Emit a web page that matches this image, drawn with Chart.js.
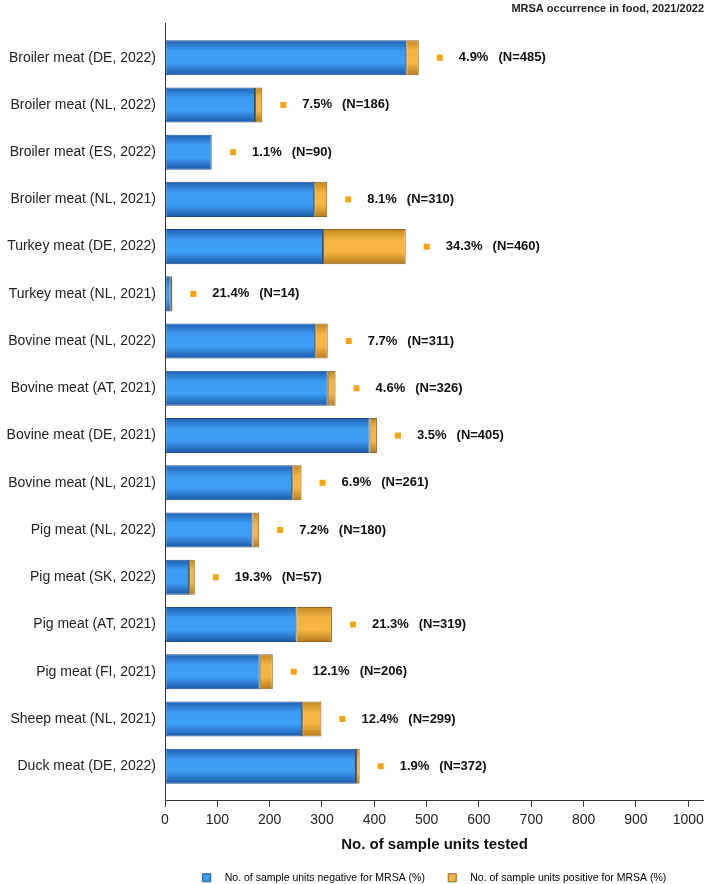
<!DOCTYPE html>
<html>
<head>
<meta charset="utf-8">
<title>MRSA occurrence in food, 2021/2022</title>
<script src="https://cdn.jsdelivr.net/npm/chart.js@4/dist/chart.umd.min.js"></script>
<style>
    html, body { margin: 0; padding: 0; background: #fff; }
    #wrap { width: 709px; height: 884px; }
</style>
</head>
<body>
<div id="wrap"><canvas id="chartMrsa"></canvas></div>
<script>
var categories = [
    "Broiler meat (DE, 2022)", "Broiler meat (NL, 2022)", "Broiler meat (ES, 2022)", "Broiler meat (NL, 2021)",
    "Turkey meat (DE, 2022)", "Turkey meat (NL, 2021)", "Bovine meat (NL, 2022)", "Bovine meat (AT, 2021)",
    "Bovine meat (DE, 2021)", "Bovine meat (NL, 2021)", "Pig meat (NL, 2022)", "Pig meat (SK, 2022)",
    "Pig meat (AT, 2021)", "Pig meat (FI, 2021)", "Sheep meat (NL, 2021)", "Duck meat (DE, 2022)"
];
var negative = [461, 172, 89, 285, 302, 11, 287, 311, 391, 243, 167, 46, 251, 181, 262, 365];
var positive = [24, 14, 1, 25, 158, 3, 24, 15, 14, 18, 13, 11, 68, 25, 37, 7];
var percentLabels = ["4.9%", "7.5%", "1.1%", "8.1%", "34.3%", "21.4%", "7.7%", "4.6%",
    "3.5%", "6.9%", "7.2%", "19.3%", "21.3%", "12.1%", "12.4%", "1.9%"];
var sampleCounts = [485, 186, 90, 310, 460, 14, 311, 326, 405, 261, 180, 57, 319, 206, 299, 372];

var FONT = '"Liberation Sans", Arial, sans-serif';
var BAR_SHARE = 0.742;   // bar thickness as part of one category
var EDGE_PAD = 0.23;     // extra room above first / below last bar (in categories)

var blueStops = [[0, "#1f5fb0"], [0.3, "#3c9bf2"], [0.65, "#3e9ff6"], [1, "#1b58a6"]];
var orangeStops = [[0, "#c2861f"], [0.3, "#f4b443"], [0.65, "#f6b644"], [1, "#b57a1a"]];

function barGradient(context, stops, fallback) {
    var chart = context.chart;
    var yScale = chart.scales.y;
    if (context.dataIndex === undefined || !yScale || !chart.chartArea) {
        return fallback;
    }
    var yc = yScale.getPixelForValue(context.dataIndex);
    var half = Math.abs(yScale.getPixelForValue(1) - yScale.getPixelForValue(0)) * BAR_SHARE / 2;
    var g = chart.ctx.createLinearGradient(0, yc - half, 0, yc + half);
    stops.forEach(function (s) { g.addColorStop(s[0], s[1]); });
    return g;
}

var valueLabels = {
    id: "valueLabels",
    afterLayout: function (chart) {
        // legend sits centred under the plot area and a little lower
        if (chart.legend) {
            chart.legend.left = chart.chartArea.left;
            chart.legend.top += 9;
            chart.legend.bottom += 9;
        }
    },
    afterDatasetsDraw: function (chart) {
        var ctx = chart.ctx;
        var x = chart.scales.x;
        var y = chart.scales.y;
        ctx.save();
        ctx.font = "bold 13px " + FONT;
        ctx.textBaseline = "middle";
        ctx.textAlign = "left";
        for (var i = 0; i < categories.length; i++) {
            var end = x.getPixelForValue(sampleCounts[i]);
            var yc = y.getPixelForValue(i);
            ctx.fillStyle = "#f7a30c";
            ctx.fillRect(end + 18, yc - 3, 6, 6);
            ctx.fillStyle = "#111";
            ctx.fillText(percentLabels[i], end + 40, yc);
            var w = ctx.measureText(percentLabels[i]).width;
            ctx.fillText("(N=" + sampleCounts[i] + ")", end + 40 + w + 10, yc);
        }
        ctx.restore();
    }
};

var ctx = document.getElementById("chartMrsa");
var myChart = new Chart(ctx, {
    type: "bar",
    data: {
        labels: categories,
        datasets: [{
            label: "No. of sample units negative for MRSA (%)",
            data: negative,
            backgroundColor: function (c) { return barGradient(c, blueStops, "#3c9bf2"); },
            borderColor: "#1d4f8f",
            borderWidth: 1,
            borderSkipped: false
        }, {
            label: "No. of sample units positive for MRSA (%)",
            data: positive,
            backgroundColor: function (c) { return barGradient(c, orangeStops, "#f4b443"); },
            borderColor: "#8c6420",
            borderWidth: 1,
            borderSkipped: false
        }]
    },
    options: {
        indexAxis: "y",
        responsive: true,
        maintainAspectRatio: false,
        animation: false,
        barPercentage: 1,
        categoryPercentage: BAR_SHARE,
        layout: { padding: { left: 0, right: 5, top: 0, bottom: 0 } },
        scales: {
            x: {
                stacked: true,
                min: 0,
                max: 1030,
                grid: { drawOnChartArea: false, drawTicks: true, tickLength: 6, tickColor: "#333" },
                border: { color: "#333", width: 1 },
                ticks: {
                    stepSize: 100,
                    includeBounds: false,
                    color: "#222",
                    font: { family: FONT, size: 14 },
                    padding: 5,
                    callback: function (v) { return String(v); }
                },
                title: {
                    display: true,
                    text: "No. of sample units tested",
                    color: "#111",
                    font: { family: FONT, size: 15, weight: "bold" },
                    padding: { top: 2, bottom: 10 }
                }
            },
            y: {
                stacked: true,
                grid: { drawOnChartArea: false, drawTicks: false },
                border: { color: "#333", width: 1 },
                ticks: { autoSkip: false, color: "#222", font: { family: FONT, size: 14 }, padding: 9 },
                afterFit: function (scale) { scale.width = 165; },
                afterBuildTicks: function (scale) {
                    scale.ticks = categories.map(function (c, i) { return { value: i }; });
                    scale._startValue = -0.5 - EDGE_PAD;
                    scale._valueRange = categories.length + 2 * EDGE_PAD;
                }
            }
        },
        plugins: {
            title: {
                display: true,
                text: "MRSA occurrence in food, 2021/2022",
                align: "end",
                color: "#222",
                font: { family: FONT, size: 11, weight: "bold" },
                padding: { top: 2, bottom: 8 }
            },
            legend: {
                position: "bottom",
                labels: {
                    boxWidth: 8,
                    boxHeight: 8,
                    padding: 0,
                    color: "#222",
                    font: { family: FONT, size: 10.5 },
                    generateLabels: function (chart) {
                        return [
                            { text: "   " + chart.data.datasets[0].label + "        ", fillStyle: "#3c9bf2", strokeStyle: "#1d4f8f", lineWidth: 1, datasetIndex: 0 },
                            { text: "   " + chart.data.datasets[1].label, fillStyle: "#f4b443", strokeStyle: "#8c6420", lineWidth: 1, datasetIndex: 1 }
                        ];
                    }
                }
            },
            tooltip: { enabled: false }
        }
    },
    plugins: [valueLabels]
});
</script>
</body>
</html>
